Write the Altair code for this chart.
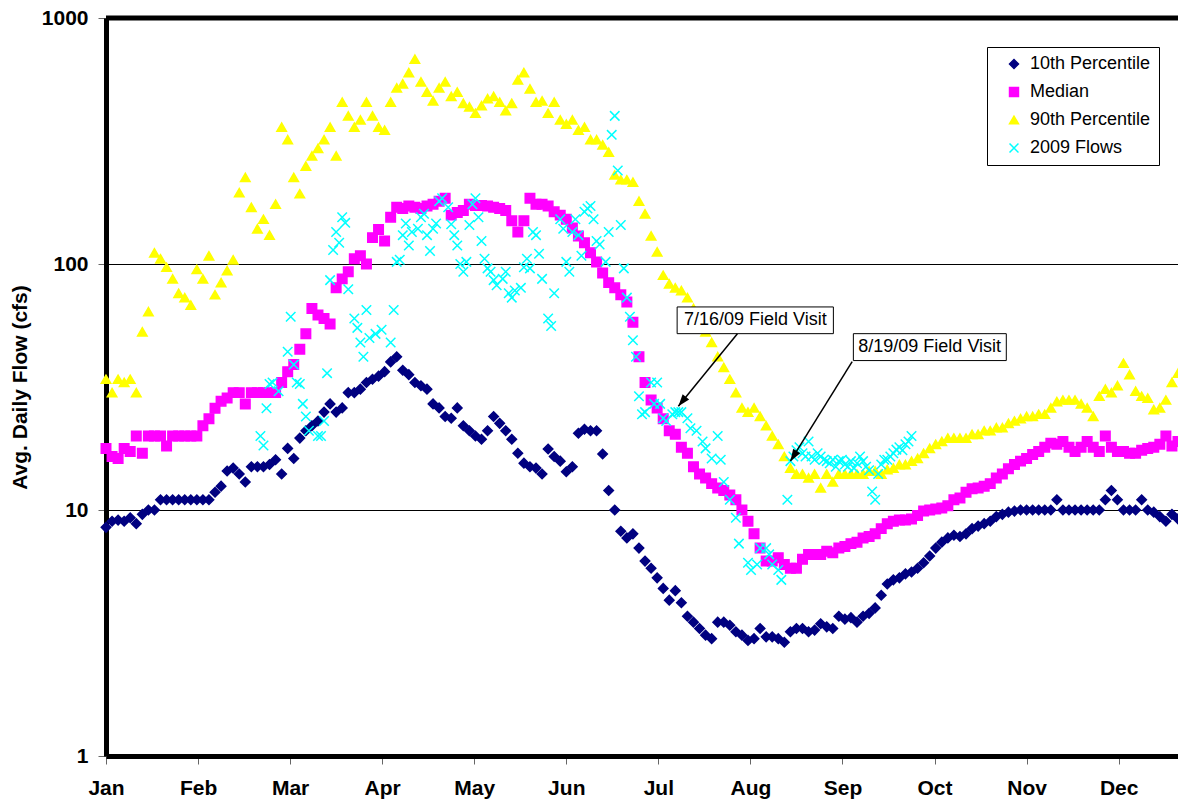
import altair as alt
import pandas as pd

# ---------------- data ----------------
MONTHS = ["Jan", "Feb", "Mar", "Apr", "May", "Jun", "Jul", "Aug", "Sep", "Oct", "Nov", "Dec"]
MONTH_TICK_DAYS = [0, 30.4, 60.8, 91.2, 121.6, 152, 182.4, 212.8, 243.2, 273.6, 304, 334.4]
Y_TICKS = [1, 10, 100, 1000]

SERIES = ["10th Percentile", "Median", "90th Percentile", "2009 Flows"]
COLORS = ["#000080", "#FF00FF", "#FFFF00", "#00FFFF"]
SHAPES = ["diamond", "square", "triangle-up", "M-1,-1L1,1M-1,1L1,-1"]

STEP_DAYS = 2  # percentile series are given every 2nd day of the year

P10 = [
    8.5, 9.0, 9.1, 9.0, 9.3, 8.8, 9.6, 10, 10, 11,
    11, 11, 11, 11, 11, 11, 11, 11, 11.8, 12.5,
    14.4, 14.8, 14, 13, 15, 15, 15, 15.3, 16, 14,
    17.8, 16.2, 19.6, 21, 22, 23, 25, 27, 25, 26,
    30, 30, 31, 33, 34, 35, 36.5, 40, 42, 37,
    35.5, 33, 32, 31, 27, 26, 24, 23.6, 26, 22,
    21, 20, 19.4, 21, 24, 22.5, 21, 19.4, 17, 15.5,
    15, 14.8, 14, 17.7, 16.5, 15.8, 14.3, 15, 20.5, 21.3,
    21, 21, 16.9, 12, 10, 8.2, 7.7, 8, 7, 6.2,
    5.8, 5.3, 4.8, 4.3, 4.7, 4.2, 3.7, 3.5, 3.3, 3.1,
    3.0, 3.5, 3.5, 3.4, 3.2, 3.1, 2.95, 3.0, 3.3, 3.05,
    3.05, 3.0, 2.9, 3.2, 3.3, 3.3, 3.2, 3.25, 3.45, 3.35,
    3.3, 3.7, 3.6, 3.65, 3.5, 3.7, 3.8, 4.0, 4.5, 5.0,
    5.2, 5.3, 5.5, 5.6, 5.8, 6.1, 6.5, 7.0, 7.4, 7.7,
    7.9, 7.8, 8.0, 8.4, 8.6, 8.8, 9.0, 9.4, 9.6, 9.8,
    9.9, 10, 10, 10, 10, 10, 10, 11, 10, 10,
    10, 10, 10, 10, 10, 11, 12, 11, 10, 10,
    10, 11, 10, 9.8, 9.4, 9.0, 9.6, 9.2,
]

MEDIAN = [
    17.8, 16.5, 16.2, 17.8, 17.3, 20, 17, 20, 20, 20,
    18.2, 20, 20, 20, 20, 20, 22, 23.5, 25.9, 27.7,
    28.5, 30, 30, 27, 30, 30, 30, 30, 30, 33,
    36.5, 39, 45, 52, 66, 62, 60, 57, 80, 87,
    93, 105, 108, 100, 128, 138, 124, 155, 170, 168,
    172, 170, 168, 172, 175, 180, 185, 158, 162, 165,
    175, 173, 173, 172, 170, 168, 165, 150, 135, 150,
    185, 175, 175, 172, 163, 158, 152, 140, 130, 122,
    111, 102, 92, 84, 80, 75, 70, 58, 42, 33,
    28, 26, 23.5, 21, 20.3, 18, 17, 15, 14, 13.5,
    12.8, 12.3, 12, 11.5, 11, 10, 9, 8, 7, 6.2,
    6.2, 6.4, 6.0, 5.8, 5.8, 6.3, 6.6, 6.6, 6.6, 6.8,
    6.7, 7.0, 7.1, 7.3, 7.4, 7.7, 7.8, 8.0, 8.4, 8.8,
    9.0, 9.1, 9.1, 9.2, 9.5, 9.9, 10, 10.1, 10.2, 10.4,
    11, 11.2, 11.8, 12.2, 12.3, 12.5, 12.8, 13.5, 14, 14.7,
    15.3, 15.8, 16.2, 16.8, 17.3, 18, 18.7, 18.5, 19, 18,
    17.3, 18, 19, 18, 17.3, 20, 18, 17.3, 17.3, 17,
    17, 17.5, 17.8, 18, 18.5, 20, 18.2, 19,
]

P90 = [
    34, 30, 34, 33, 34, 30, 53, 64, 111, 105,
    97, 87, 76, 73, 68, 95, 87, 108, 75, 84,
    94, 104, 195, 225, 170, 139, 152, 131, 175, 360,
    320, 225, 193, 250, 275, 295, 320, 360, 275, 455,
    400, 360, 385, 455, 400, 360, 350, 455, 520, 540,
    600, 680, 550, 500, 460, 520, 550, 480, 500, 450,
    435, 410, 440, 470, 480, 455, 420, 450, 560, 600,
    515, 455, 460, 410, 455, 385, 370, 385, 350, 360,
    320, 320, 305, 285, 230, 220, 220, 215, 180, 160,
    130, 112, 90, 83, 80, 78, 73, 66, 58, 53,
    48, 42, 38, 34, 30, 26, 25, 26, 24, 22,
    20, 18.5, 16.5, 14.8, 14, 14, 13.5, 14, 12.3, 14,
    13, 14, 14, 14, 14, 14, 14.4, 14.4, 14, 14.6,
    14.8, 15.3, 15.3, 15.8, 16.2, 17, 17.8, 18.5, 19, 19.6,
    19.6, 19.6, 19.6, 20.3, 20.3, 21, 21, 21.6, 21.6, 22.5,
    23, 23.5, 24, 24, 24.5, 24.5, 26, 27.6, 28, 28,
    28, 27, 26, 24, 29, 31, 30, 32, 39.5, 35.5,
    30.4, 29, 28.5, 25.6, 26, 28, 33, 36,
]

FLOW_DAYS = [
    51, 52, 53, 54, 55, 57, 60, 61, 62, 63, 64, 65, 66, 67, 70, 71, 72, 73, 74, 75,
    76, 77, 78, 79, 80, 82, 83, 84, 85, 86, 87, 89, 91, 94, 95, 96, 97, 98, 99, 100,
    101, 103, 104, 105, 106, 107, 108, 109, 110, 111, 113, 114, 115, 116, 117, 118, 119, 120, 121, 122,
    123, 124, 125, 126, 127, 128, 129, 131, 132, 133, 134, 135, 137, 138, 139, 140, 141, 142, 143, 144,
    146, 147, 148, 150, 151, 152, 153, 154, 155, 156, 157, 158, 159, 160, 161, 162, 163, 165, 166, 167,
    168, 169, 170, 171, 172, 173, 174, 175, 176, 177, 178, 180, 181, 182, 183, 184, 185, 187, 188, 189,
    190, 192, 193, 195, 197, 198, 200, 202, 203, 204, 206, 208, 209, 212, 213, 215, 216, 218, 219, 220,
    222, 223, 225, 226, 227, 228, 229, 230, 231, 232, 233, 234, 235, 236, 237, 238, 239, 240, 241, 242,
    243, 244, 245, 246, 247, 248, 249, 250, 251, 252, 253, 254, 255, 256, 257, 258, 259, 260, 261, 262,
    263, 264, 265, 266,
]
FLOW_VALUES = [
    20, 18.3, 25.9, 32.5, 33, 30.4, 44, 61, 39, 33, 32.5, 27, 24, 21, 20, 20, 23, 36, 86, 114,
    135, 122, 155, 147, 79, 60, 55, 48, 42, 65, 50, 52, 54, 48, 65, 102, 104, 131, 146, 119,
    135, 139, 155, 160, 131, 113, 139, 146, 180, 185, 170, 145, 131, 119, 100, 93, 102, 144, 175, 185,
    155, 124, 105, 96, 93, 86, 82, 87, 93, 76, 73, 78, 80, 97, 105, 96, 135, 131, 110, 87,
    60, 56, 76, 152, 139, 102, 93, 135, 152, 131, 108, 163, 168, 172, 152, 124, 120, 102, 135, 335,
    400, 240, 144, 96, 73, 61, 49, 42, 29, 24.5, 25, 33, 27, 33, 27, 23.6, 23, 24.5, 25, 25,
    25, 23.6, 21.5, 21, 19, 17.8, 16.2, 20, 16, 13, 11, 9.3, 7.3, 6.1, 5.7, 6.0, 7, 7, 6.6, 6,
    5.7, 5.2, 11, 15.8, 16.5, 17.5, 18, 17, 16.5, 19, 16.5, 16, 17, 16.5, 16, 15.8, 15.5, 16, 15, 15.8,
    16, 15.3, 15, 15.8, 14.8, 15.5, 16.5, 15.8, 15, 14.5, 11.9, 11, 14, 15.3, 16, 16, 16.5, 17, 17.6, 18,
    17.5, 18.5, 19, 20,
]

# Field-visit call-outs (day of year, flow in cfs)
NOTE_TEXT = ["7/16/09 Field Visit", "8/19/09 Field Visit"]
NOTE_DAY = [214.4, 272.0]
NOTE_FLOW = [59.1, 45.9]
NOTE_BOX_DAY = [188.6, 246.8]
NOTE_BOX_DAY2 = [240.2, 297.3]
NOTE_BOX_FLOW = [66.9, 52.1]
NOTE_BOX_FLOW2 = [52.1, 40.5]
ARROW_FROM_DAY = [208.5, 246.4]
ARROW_FROM_FLOW = [52.1, 40.1]
ARROW_TO_DAY = [189.0, 226.0]
ARROW_TO_FLOW = [26.4, 15.8]
ARROW_ANGLE = [219, 212]

# ---------------- tables ----------------
rows = []
for name, vals in [(SERIES[0], P10), (SERIES[1], MEDIAN), (SERIES[2], P90)]:
    for i, v in enumerate(vals):
        rows.append({"day": i * STEP_DAYS, "flow": v, "series": name})
for d, v in zip(FLOW_DAYS, FLOW_VALUES):
    rows.append({"day": d, "flow": v, "series": SERIES[3]})
df = pd.DataFrame(rows)

notes = pd.DataFrame({
    "text": NOTE_TEXT, "day": NOTE_DAY, "flow": NOTE_FLOW,
    "bx": NOTE_BOX_DAY, "bx2": NOTE_BOX_DAY2, "by": NOTE_BOX_FLOW, "by2": NOTE_BOX_FLOW2,
    "ax": ARROW_FROM_DAY, "ay": ARROW_FROM_FLOW, "tx": ARROW_TO_DAY, "ty": ARROW_TO_FLOW,
    "angle": ARROW_ANGLE,
})

# ---------------- chart ----------------
FONT = "Liberation Sans"
W, H = 1072, 738
YTITLE = "Avg. Daily Flow (cfs)"

x_scale = alt.Scale(domain=[0, 354], nice=False, zero=False)
y_scale = alt.Scale(type="log", domain=[1, 1000], nice=False)

label_expr = "[" + ",".join("'%s'" % m for m in MONTHS) + "][round(datum.value / 30.4)]"

x_axis = alt.Axis(
    values=MONTH_TICK_DAYS, labelExpr=label_expr, title=None, grid=False,
    labelFont=FONT, labelFontSize=21, labelFontWeight="bold", labelColor="black",
    labelPadding=13, labelFlush=False, labelOverlap=False,
    tickSize=8, tickColor="#666666", tickWidth=1,
    domainColor="black", domainWidth=5,
)
y_axis = alt.Axis(
    values=Y_TICKS, format="d", title=YTITLE,
    titleFont=FONT, titleFontSize=21, titleFontWeight="bold", titleColor="black",
    titlePadding=11,
    labelFont=FONT, labelFontSize=21, labelFontWeight="bold", labelColor="black",
    labelPadding=10, labelFlush=False, labelOverlap=False,
    tickSize=8, tickColor="#666666", tickWidth=1,
    domainColor="black", domainWidth=5,
    grid=True, gridColor="black", gridWidth=1, gridOpacity=1,
)

legend = alt.Legend(
    title=None, orient="none", legendX=881, legendY=29,
    padding=8, symbolOffset=10, labelOffset=7, rowPadding=10,
    labelFont=FONT, labelFontSize=18, labelColor="black",
    strokeColor="black", fillColor="white",
    symbolSize=80, symbolStrokeWidth=1.5,
)

points = alt.Chart(df).mark_point(size=90, strokeWidth=1.5, opacity=1, fillOpacity=1).encode(
    x=alt.X("day:Q", scale=x_scale, axis=x_axis),
    y=alt.Y("flow:Q", scale=y_scale, axis=y_axis),
    fill=alt.Fill("series:N", scale=alt.Scale(domain=SERIES, range=COLORS), legend=legend),
    stroke=alt.Stroke("series:N", scale=alt.Scale(domain=SERIES, range=COLORS), legend=legend),
    shape=alt.Shape("series:N", scale=alt.Scale(domain=SERIES, range=SHAPES), legend=legend),
)

top_border = alt.Chart(alt.Data(values=[{}])).mark_rule(color="black", strokeWidth=5).encode(
    x=alt.value(0), x2=alt.value(W), y=alt.value(0)
)

base = alt.Chart(notes)
boxes = base.mark_rect(fill="white", stroke="black", strokeWidth=1).encode(
    x=alt.X("bx:Q", title=None), x2="bx2:Q",
    y=alt.Y("by:Q", title=YTITLE), y2="by2:Q",
)
texts = base.mark_text(font=FONT, fontSize=18, color="black", align="center", baseline="middle").encode(
    x=alt.X("day:Q", title=None), y=alt.Y("flow:Q", title=YTITLE), text="text:N"
)
arrows = base.mark_rule(color="black", strokeWidth=1.5).encode(
    x=alt.X("ax:Q", title=None), x2="tx:Q",
    y=alt.Y("ay:Q", title=YTITLE), y2="ty:Q",
)
heads = base.mark_point(shape="M0,0L0.35,1L-0.35,1Z", filled=True, color="black",
                        size=576, opacity=1).encode(
    x=alt.X("tx:Q", title=None), y=alt.Y("ty:Q", title=YTITLE),
    angle=alt.Angle("angle:Q", scale=None),
)

chart = alt.layer(points, top_border, boxes, texts, arrows, heads).properties(
    width=W, height=H,
    autosize=alt.AutoSizeParams(type="none"),
    padding={"left": 98, "top": 10, "right": 0, "bottom": 47},
    background="white",
).configure_view(stroke=None).configure(font=FONT)

chart.save("out.html", embed_options={"renderer": "svg", "actions": False})
